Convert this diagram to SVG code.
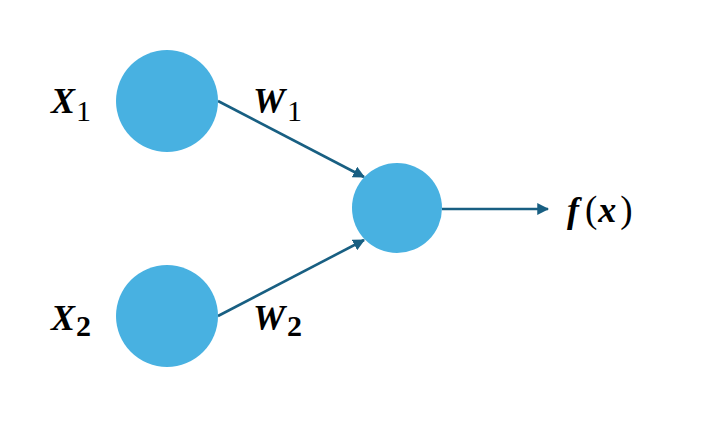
<svg xmlns="http://www.w3.org/2000/svg" width="714" height="421" viewBox="0 0 714 421">
<style>
.node{fill:#48b1e1}
.edge{stroke:#185f82;stroke-width:2.6;fill:none}
.m{font-family:"Liberation Serif",serif;font-style:italic;font-weight:bold;font-size:36px;fill:#000}
.s{font-style:normal;font-size:30px}
.p{font-style:normal;font-weight:normal;font-size:37px}
</style>
<defs>
<marker id="ah" viewBox="0 0 10 10" refX="9" refY="5" markerWidth="4.6" markerHeight="4.6" orient="auto" markerUnits="strokeWidth">
<path d="M0,0 L10,5 L0,10 z" fill="#185f82"/>
</marker>
</defs>
<rect width="714" height="421" fill="#fff"/>
<g id="connectors">
<line class="edge" x1="218" y1="101" x2="364" y2="177" marker-end="url(#ah)"/>
<line class="edge" x1="218" y1="316" x2="364" y2="240" marker-end="url(#ah)"/>
<line class="edge" x1="442" y1="209" x2="548" y2="209" marker-end="url(#ah)"/>
</g>
<g id="x1"><circle class="node" cx="167" cy="101" r="51"/><text class="m" x="51" y="113">X<tspan class="s" font-weight="normal" dx="1" dy="8">1</tspan></text></g>
<g id="x2"><circle class="node" cx="167" cy="316" r="51"/><text class="m" x="51" y="330">X<tspan class="s" dx="1" dy="6">2</tspan></text></g>
<g id="out"><circle class="node" cx="397" cy="208" r="45"/></g>
<g id="w1"><text class="m" x="253" y="113">W<tspan class="s" font-weight="normal" dx="2" dy="8">1</tspan></text></g>
<g id="w2"><text class="m" x="253" y="330">W<tspan class="s" dx="2" dy="6">2</tspan></text></g>
<g id="fx"><text class="m" x="567" y="222" font-size="35">f<tspan class="p" dx="6">(</tspan><tspan dx="1">x</tspan><tspan class="p" dx="4">)</tspan></text></g>
</svg>
